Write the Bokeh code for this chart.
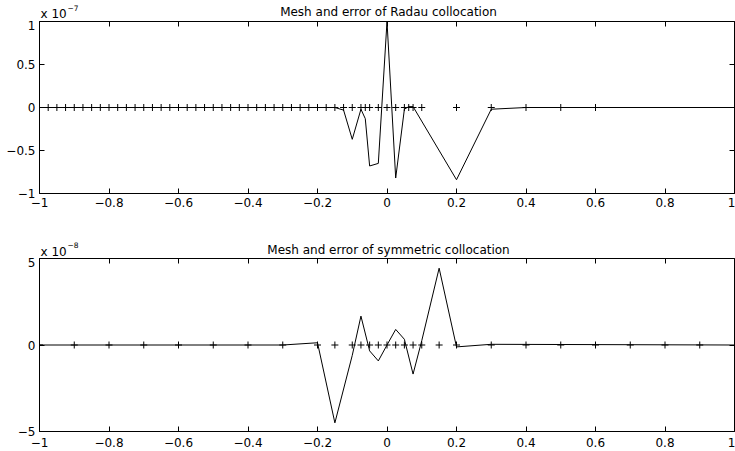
from bokeh.plotting import figure
from bokeh.layouts import column
from bokeh.models import LinearAxis, FixedTicker, Range1d
from bokeh.core.properties import value
from bokeh.embed import file_html
from bokeh.resources import INLINE

# ---------------- data ----------------
x_ticks = [-1.0, -0.8, -0.6, -0.4, -0.2, 0.0, 0.2, 0.4, 0.6, 0.8, 1.0]
x_tick_labels = ["\u22121", "\u22120.8", "\u22120.6", "\u22120.4", "\u22120.2", "0",
                 "0.2", "0.4", "0.6", "0.8", "1"]

top_title = "Mesh and error of Radau collocation"
top_scale = "x 10"
top_exponent = "\u22127"
top_y_ticks = [-1.0, -0.5, 0.0, 0.5, 1.0]
top_y_tick_labels = ["\u22121", "\u22120.5", "0", "0.5", "1"]

bot_title = "Mesh and error of symmetric collocation"
bot_scale = "x 10"
bot_exponent = "\u22128"
bot_y_ticks = [-5.0, 0.0, 5.0]
bot_y_tick_labels = ["\u22125", "0", "5"]

# Radau mesh points (x)
radau_mesh = [-1.0, -0.975, -0.95, -0.925, -0.9, -0.875, -0.85, -0.825, -0.8,
              -0.775, -0.75, -0.725, -0.7, -0.675, -0.65, -0.625, -0.6,
              -0.575, -0.55, -0.525, -0.5, -0.475, -0.45, -0.425, -0.4,
              -0.375, -0.35, -0.325, -0.3, -0.275, -0.25, -0.225, -0.2,
              -0.175, -0.15, -0.125, -0.1, -0.075, -0.0625, -0.05, -0.025,
              0.0, 0.025, 0.05, 0.0625, 0.075, 0.1, 0.2, 0.3, 0.4, 0.5, 0.6]
# Radau error (units of 1e-7)
radau_err_x = [-1.0, -0.15, -0.125, -0.1, -0.075, -0.0625, -0.05, -0.025, 0.0,
               0.025, 0.05, 0.0625, 0.075, 0.2, 0.3, 0.4, 1.0]
radau_err = [0.0, 0.0, -0.03, -0.37, -0.02, -0.13, -0.68, -0.65, 1.0,
             -0.82, -0.02, 0.01, 0.01, -0.84, -0.02, 0.0, 0.0]

# symmetric mesh points (x)
sym_mesh = [-1.0, -0.9, -0.8, -0.7, -0.6, -0.5, -0.4, -0.3, -0.2, -0.15,
            -0.1, -0.075, -0.05, -0.025, 0.0, 0.025, 0.05, 0.075, 0.1,
            0.15, 0.2, 0.3, 0.4, 0.5, 0.6, 0.7, 0.8, 0.9]
# symmetric error (units of 1e-8)
sym_err_x = [-1.0, -0.3, -0.2, -0.15, -0.1, -0.075, -0.05, -0.025, 0.0,
             0.025, 0.05, 0.075, 0.1, 0.15, 0.2, 0.3, 1.0]
sym_err = [0.0, 0.0, 0.13, -4.5, -0.6, 1.67, -0.34, -0.92, 0.0,
           0.9, 0.33, -1.68, 0.25, 4.44, -0.11, 0.04, 0.0]

# ---------------- layout constants ----------------
FONT = "DejaVu Sans"
W = 735
LEFT = 39
RIGHT = 1
TITLE_X = 388
SCALE_X = 40
EXP_X = 67


def header(height, title, scale, exponent, title_y, scale_y, exp_y):
    # header strip whose frame is aligned with the plot frame below;
    # its x range is expressed in page pixels
    h = figure(width=W, height=height, x_range=Range1d(LEFT, W - RIGHT),
               y_range=Range1d(0, height), output_backend="svg",
               toolbar_location=None, min_border_left=LEFT,
               min_border_right=RIGHT, min_border_top=0, min_border_bottom=0,
               x_axis_location=None, y_axis_location=None)
    h.xgrid.visible = False
    h.ygrid.visible = False
    h.outline_line_color = None
    h.text(x=[TITLE_X], y=[title_y], text=[title], text_font=value(FONT),
           text_font_size=value("12px"), text_align="center",
           text_baseline="alphabetic", text_color="black")
    h.text(x=[SCALE_X], y=[scale_y], text=[scale], text_font=value(FONT),
           text_font_size=value("12px"), text_align="left",
           text_baseline="alphabetic", text_color="black")
    h.text(x=[EXP_X], y=[exp_y], text=[exponent], text_font=value(FONT),
           text_font_size=value("7.5px"), text_align="left",
           text_baseline="alphabetic", text_color="black")
    return h


def make_fig(height, top, bottom, ylim, yticks, ylabels, x_standoff):
    p = figure(width=W, height=height, x_range=Range1d(-1, 1),
               y_range=Range1d(*ylim), output_backend="svg",
               toolbar_location=None, min_border_left=LEFT,
               min_border_right=RIGHT, min_border_top=top,
               min_border_bottom=bottom)
    p.xgrid.visible = False
    p.ygrid.visible = False
    p.outline_line_color = "black"
    p.outline_line_width = 1

    ax = p.xaxis[0]
    ax.ticker = FixedTicker(ticks=x_ticks)
    ax.major_label_overrides = {v: s for v, s in zip(x_ticks, x_tick_labels)}
    ay = p.yaxis[0]
    ay.ticker = FixedTicker(ticks=yticks)
    ay.major_label_overrides = {v: s for v, s in zip(yticks, ylabels)}
    for a in (ax, ay):
        a.major_tick_in = 5
        a.major_tick_out = 0
        a.minor_tick_line_color = None
        a.axis_line_color = "black"
        a.major_tick_line_color = "black"
        a.major_label_text_font = FONT
        a.major_label_text_font_size = "12px"
        a.major_label_text_color = "black"
    ax.major_label_standoff = x_standoff
    ay.major_label_standoff = 4

    top_ax = LinearAxis(ticker=FixedTicker(ticks=x_ticks))
    right_ax = LinearAxis(ticker=FixedTicker(ticks=yticks))
    for a in (top_ax, right_ax):
        a.major_tick_in = 5
        a.major_tick_out = 0
        a.minor_tick_line_color = None
        a.major_label_text_font_size = "0px"
        a.major_label_text_color = None
        a.major_label_text_alpha = 0
        a.major_label_standoff = 0
        a.axis_line_color = None
        a.major_tick_line_color = "black"
    p.add_layout(top_ax, "above")
    p.add_layout(right_ax, "right")
    return p


# ---------------- top panel ----------------
h1 = header(20, top_title, top_scale, top_exponent, 8.5, 6.5, 12.5)
p1 = make_fig(216, 1, 43, (-1, 1), top_y_ticks, top_y_tick_labels, 4)
p1.line(radau_err_x, radau_err, line_color="black", line_width=1)
p1.scatter(radau_mesh, [0.0 for _ in radau_mesh], marker="cross", size=7,
           line_color="black", line_width=1)

# ---------------- bottom panel ----------------
h2 = header(21, bot_title, bot_scale, bot_exponent, 8, 6, 13)
p2 = make_fig(194, 1, 20, (-5, 5), bot_y_ticks, bot_y_tick_labels, 6)
p2.line(sym_err_x, sym_err, line_color="black", line_width=1)
p2.scatter(sym_mesh, [0.0 for _ in sym_mesh], marker="cross", size=7,
           line_color="black", line_width=1)

layout = column(h1, p1, h2, p2, spacing=0)
open("out.html", "w").write(file_html(layout, INLINE))
